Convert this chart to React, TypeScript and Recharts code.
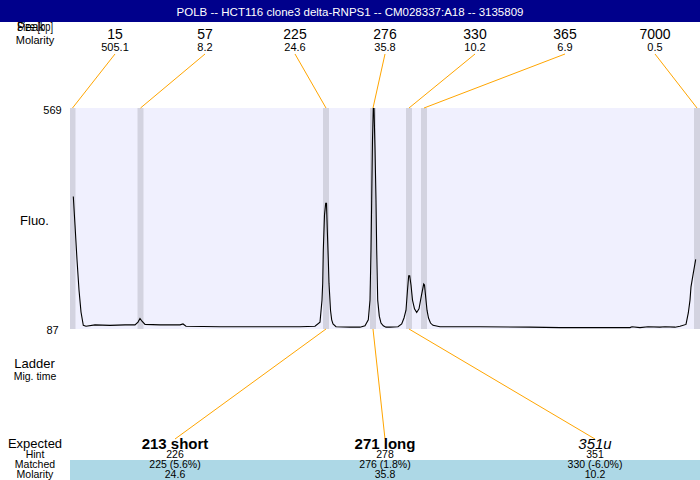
import React from 'react';
import { ComposedChart, Line, XAxis, YAxis, ReferenceArea, ReferenceLine } from 'recharts';

// ---- data ----
const title = 'POLB -- HCT116 clone3 delta-RNPS1 -- CM028337:A18 -- 3135809';
const yMin = 87;
const yMax = 569;
const tMin = 0;
const tMax = 630;

const ladderSizes = ['15', '57', '225', '276', '330', '365', '7000'];
const ladderMolarity = ['505.1', '8.2', '24.6', '35.8', '10.2', '6.9', '0.5'];
const ladderTimes = [2.5, 70.5, 256, 303, 339, 354, 627];

const expectedNames = ['213 short', '271 long', '351u'];
const expectedHints = ['226', '278', '351'];
const expectedMatched = ['225 (5.6%)', '276 (1.8%)', '330 (-6.0%)'];
const expectedMolarity = ['24.6', '35.8', '10.2'];
const expectedPeakTimes = [256, 303, 339];

const traceT = [
  3.3, 5, 7, 9, 11, 13.3, 16, 25, 40, 55, 65, 68, 70, 72, 75, 90, 110, 113, 116, 150, 190, 230, 245, 250, 252, 252.7,
  253.3, 254.5, 255.7, 256.5, 257.3, 258.3, 259, 260.5, 261.7, 263, 266, 280, 290, 295, 298.3, 300, 301, 301.7, 302.5,
  303.3, 304, 305, 306, 306.7, 307.7, 309.3, 311, 313.3, 316, 320, 328, 331.7, 334, 336, 337.5, 338.7, 339.7, 341,
  342.5, 344.5, 346.7, 349, 351.5, 353.7, 354.5, 355.5, 357, 358.5, 360.5, 363, 370, 410, 460, 490, 530, 560, 562, 570,
  578, 590, 595, 605, 610, 616, 618.3, 620, 621, 623.3, 625.7,
];
const traceFluo = [
  376, 314, 238, 172, 124, 95, 93, 96, 95, 96, 96, 102, 110, 104, 97, 96, 96, 98, 93, 92, 92, 92, 93, 102, 150, 187,
  259, 336, 361, 361, 303, 238, 187, 128, 107, 98, 92, 91, 91, 94, 107, 150, 259, 370, 500,
  569, 569, 480, 368, 259, 150, 115, 100, 94, 91, 91, 92, 98, 111, 128, 172, 203, 203, 183,
  150, 131, 123, 131, 161, 185, 183, 161, 128, 111, 100, 95, 92, 92, 91, 90, 90, 90, 92, 90,
  92, 91, 92, 91, 93, 97, 122, 150, 179, 209, 239,
];

const trace = traceT.map((t, i) => ({ t, fluo: traceFluo[i] }));

// ---- layout ----
const W = 700;
const H = 480;
const PLOT_LEFT = 70;
const PLOT_RIGHT = 700;
const PLOT_TOP = 108;
const PLOT_BOTTOM = 329;
const BAND_HALF = 3;
const FONT = '"Liberation Sans", Arial, Helvetica, sans-serif';

const pxToFluo = (py: number) => yMax - ((py - PLOT_TOP) * (yMax - yMin)) / (PLOT_BOTTOM - PLOT_TOP);
const pxToT = (px: number) => tMin + ((px - PLOT_LEFT) * (tMax - tMin)) / (PLOT_RIGHT - PLOT_LEFT);

const topColW = (PLOT_RIGHT - PLOT_LEFT) / ladderSizes.length;
const botColW = (PLOT_RIGHT - PLOT_LEFT) / expectedNames.length;
const topCol = (i: number) => PLOT_LEFT + topColW * (i + 0.5);
const botCol = (i: number) => PLOT_LEFT + botColW * (i + 0.5);

const TOP_LINE_Y = 54;
const BOT_LINE_Y = 439;

export default function App() {
  return (
    <div style={{ position: 'absolute', left: 0, top: 0, width: W, height: H, background: '#fff', fontFamily: FONT }}>
      <div style={{ position: 'absolute', left: 0, top: 0 }}>
        <ComposedChart
          width={W}
          height={H}
          data={trace}
          margin={{ top: PLOT_TOP, right: W - PLOT_RIGHT, bottom: H - PLOT_BOTTOM, left: PLOT_LEFT }}
        >
          <XAxis type="number" dataKey="t" domain={[tMin, tMax]} hide allowDataOverflow />
          <YAxis type="number" domain={[yMin, yMax]} hide allowDataOverflow />
          <ReferenceArea x1={tMin} x2={tMax} y1={yMin} y2={yMax} fill="#F0F0FE" fillOpacity={1} stroke="none" ifOverflow="hidden" />
          {ladderTimes.map((t, i) => (
            <ReferenceArea
              key={'band' + i}
              x1={t - BAND_HALF}
              x2={t + BAND_HALF}
              y1={yMin}
              y2={yMax}
              fill="#D3D3E0"
              fillOpacity={1}
              stroke="none"
              ifOverflow="hidden"
            />
          ))}
          {ladderTimes.map((t, i) => (
            <ReferenceLine
              key={'top' + i}
              segment={[
                { x: pxToT(topCol(i)), y: pxToFluo(TOP_LINE_Y) },
                { x: t, y: yMax },
              ]}
              stroke="#FFA500"
              strokeWidth={1}
              ifOverflow="visible"
            />
          ))}
          {expectedPeakTimes.map((t, i) => (
            <ReferenceLine
              key={'bot' + i}
              segment={[
                { x: t, y: yMin },
                { x: pxToT(botCol(i)), y: pxToFluo(BOT_LINE_Y) },
              ]}
              stroke="#FFA500"
              strokeWidth={1}
              ifOverflow="visible"
            />
          ))}
          <Line
            type="linear"
            dataKey="fluo"
            stroke="#000"
            strokeWidth={1.1}
            dot={false}
            activeDot={false}
            isAnimationActive={false}
          />
        </ComposedChart>
      </div>
      <svg
        width={W}
        height={H}
        style={{ position: 'absolute', left: 0, top: 0, pointerEvents: 'none' }}
        fontFamily={FONT}
      >
        {/* partially hidden header label */}
        <text x={17} y={31} fontSize={12} fill="#000" textLength={36} lengthAdjust="spacingAndGlyphs">Size [bp]</text>
        <text x={17} y={31} fontSize={12} fill="#000">Peak</text>
        {/* title bar */}
        <rect x={0} y={0} width={W} height={22} fill="#00008B" />
        <text x={W / 2} y={16} fontSize={11.5} fill="#fff" textAnchor="middle">{title}</text>

        <text x={35} y={43.5} fontSize={11} textAnchor="middle">Molarity</text>
        {ladderSizes.map((s, i) => (
          <text key={'ls' + i} x={topCol(i)} y={39} fontSize={14} textAnchor="middle">{s}</text>
        ))}
        {ladderMolarity.map((s, i) => (
          <text key={'lm' + i} x={topCol(i)} y={51} fontSize={11} textAnchor="middle">{s}</text>
        ))}

        <text x={52.5} y={114} fontSize={11} textAnchor="middle">{yMax}</text>
        <text x={52.5} y={334} fontSize={11} textAnchor="middle">{yMin}</text>
        <text x={34.5} y={225} fontSize={13} textAnchor="middle">Fluo.</text>
        <text x={34.5} y={368} fontSize={13} textAnchor="middle">Ladder</text>
        <text x={35} y={380} fontSize={10.5} textAnchor="middle">Mig. time</text>

        <rect x={PLOT_LEFT} y={460} width={PLOT_RIGHT - PLOT_LEFT} height={H - 460} fill="#ADD8E6" />
        <text x={35} y={448} fontSize={13} textAnchor="middle">Expected</text>
        <text x={35} y={458} fontSize={10.5} textAnchor="middle">Hint</text>
        <text x={35} y={468} fontSize={10.5} textAnchor="middle">Matched</text>
        <text x={35} y={477.5} fontSize={10.5} textAnchor="middle">Molarity</text>
        {expectedNames.map((s, i) => (
          <text
            key={'en' + i}
            x={botCol(i)}
            y={449}
            fontSize={15}
            textAnchor="middle"
            fontWeight={i < 2 ? 'bold' : 'normal'}
            fontStyle={i === 2 ? 'italic' : 'normal'}
          >
            {s}
          </text>
        ))}
        {expectedHints.map((s, i) => (
          <text key={'eh' + i} x={botCol(i)} y={458} fontSize={10.5} textAnchor="middle">{s}</text>
        ))}
        {expectedMatched.map((s, i) => (
          <text key={'em' + i} x={botCol(i)} y={468} fontSize={10.5} textAnchor="middle">{s}</text>
        ))}
        {expectedMolarity.map((s, i) => (
          <text key={'eo' + i} x={botCol(i)} y={478} fontSize={10.5} textAnchor="middle">{s}</text>
        ))}
      </svg>
    </div>
  );
}
